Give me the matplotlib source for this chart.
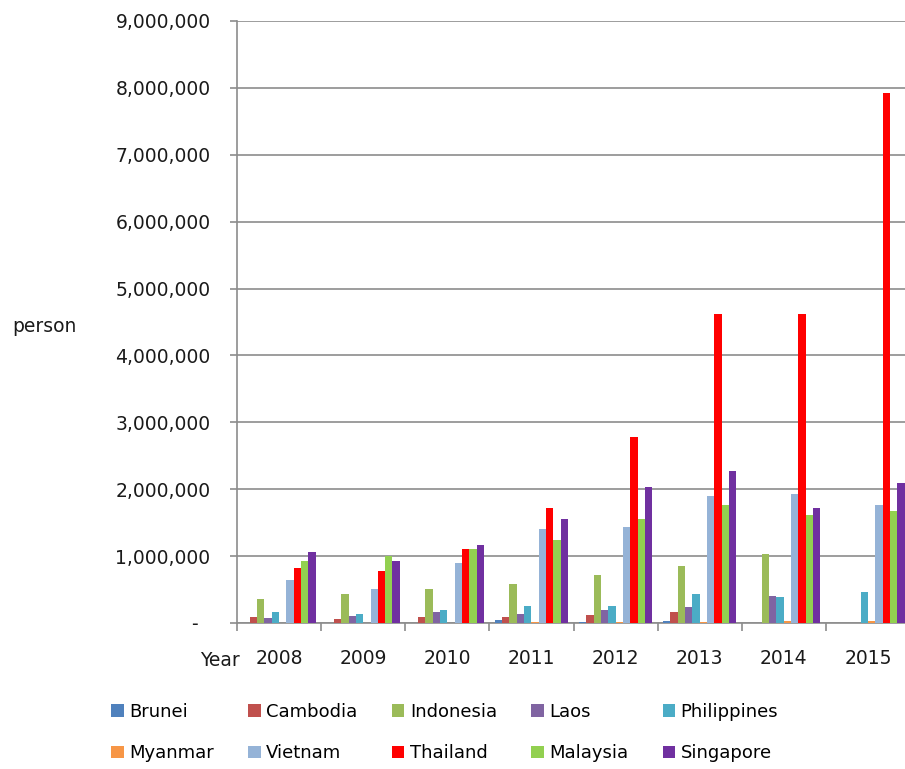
import numpy as np
import matplotlib
matplotlib.use("Agg")
import matplotlib.pyplot as plt
from matplotlib.patches import Patch
from matplotlib.ticker import FuncFormatter, MultipleLocator

years = ["2008", "2009", "2010", "2011", "2012", "2013", "2014", "2015"]
countries = ["Brunei", "Cambodia", "Indonesia", "Laos", "Philippines",
             "Myanmar", "Vietnam", "Thailand", "Malaysia", "Singapore"]

brunei = [5000, 4000, 5000, 40000, 10000, 35000, 0, 0]
cambodia = [90000, 65000, 90000, 85000, 115000, 165000, 0, 0]
indonesia = [354000, 430000, 510000, 590000, 720000, 850000, 1030000, 0]
laos = [80000, 110000, 160000, 140000, 190000, 245000, 405000, 0]
philippines = [170000, 140000, 190000, 250000, 250000, 430000, 385000, 470000]
myanmar = [5000, 5000, 5000, 8000, 10000, 15000, 30000, 25000]
vietnam = [640000, 510000, 900000, 1400000, 1430000, 1900000, 1930000, 1770000]
thailand = [820000, 770000, 1110000, 1720000, 2780000, 4620000, 4620000, 7920000]
malaysia = [925000, 1000000, 1110000, 1240000, 1560000, 1770000, 1610000, 1670000]
singapore = [1060000, 930000, 1170000, 1560000, 2030000, 2270000, 1720000, 2090000]

series = [brunei, cambodia, indonesia, laos, philippines,
          myanmar, vietnam, thailand, malaysia, singapore]
colors = ["#4F81BD", "#C0504D", "#9BBB59", "#8064A2", "#4BACC6",
          "#F79646", "#95B3D7", "#FF0000", "#92D050", "#7030A0"]

fig = plt.figure(figsize=(9.05, 7.69), dpi=100)
# right edge of the plot runs past the figure, like the cropped original
ax = fig.add_axes([237 / 905, 1 - 623 / 769, 673 / 905, 602 / 769])

x = np.arange(len(years))
w = 0.087
for i, (vals, c) in enumerate(zip(series, colors)):
    ax.bar(x + (i - 4.5) * w, vals, w, color=c, zorder=3)

ax.set_xlim(-0.5, len(years) - 0.5)
ax.set_ylim(0, 9000000)
ax.yaxis.set_major_locator(MultipleLocator(1000000))
ax.yaxis.set_major_formatter(FuncFormatter(lambda v, p: "-  " if v == 0 else f"{v:,.0f}"))
ax.grid(axis="y", color="#8c8c8c", linewidth=1.2, zorder=0)

ax.set_xticks(x)
ax.set_xticklabels(years)
ax.set_xticks(np.arange(len(years) + 1) - 0.5, minor=True)
ax.tick_params(axis="x", which="major", length=0, pad=19, labelsize=13.5, labelcolor="#1a1a1a")
ax.tick_params(axis="x", which="minor", length=6, color="#8c8c8c", width=1.2)
ax.tick_params(axis="y", length=5, color="#8c8c8c", width=1.2, pad=14,
               labelsize=13.5, labelcolor="#1a1a1a")

for s in ["top", "right"]:
    ax.spines[s].set_visible(False)
for s in ["left", "bottom"]:
    ax.spines[s].set_color("#8c8c8c")
    ax.spines[s].set_linewidth(1.2)

fig.text(12 / 905, 1 - 327 / 769, "person", fontsize=13.5, color="#1a1a1a",
         ha="left", va="center")
fig.text(200 / 905, 1 - 660 / 769, "Year", fontsize=13.5, color="#1a1a1a",
         ha="left", va="center")

# legend fills column by column, so interleave the two rows
handles = [Patch(facecolor=c, label=n) for n, c in zip(countries, colors)]
order = [0, 5, 1, 6, 2, 7, 3, 8, 4, 9]
fig.legend(handles=[handles[k] for k in order], ncol=5, loc="upper left",
           bbox_to_anchor=(111 / 905, 1 - 703 / 769), frameon=False,
           fontsize=13, handlelength=0.7, handleheight=0.7, handletextpad=0.3,
           columnspacing=1.9, labelspacing=1.3, borderaxespad=0, borderpad=0)

fig.savefig("out.png", dpi=100)
